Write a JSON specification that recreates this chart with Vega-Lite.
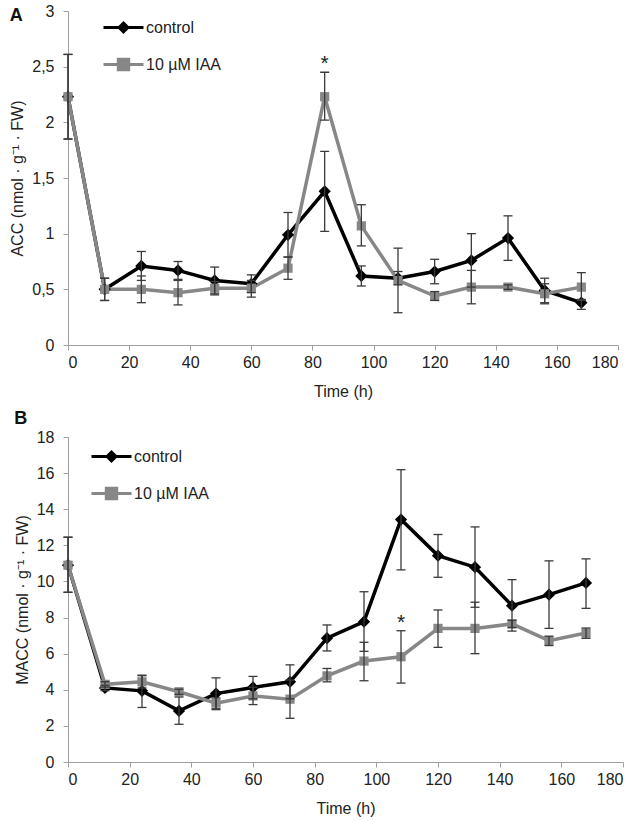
{
  "$schema": "https://vega.github.io/schema/vega-lite/v6.json",
  "padding": {"left": 9, "top": 3, "right": 5, "bottom": 5},
  "background": "white",
  "spacing": 11,
  "resolve": {"scale": {"color": "independent"}, "legend": {"color": "independent"}},
  "config": {
    "font": "Liberation Sans",
    "view": {"stroke": null},
    "axis": {
      "grid": false,
      "labelOverlap": false,
      "domainColor": "#a0a0a0",
      "tickColor": "#a0a0a0",
      "tickSize": 5,
      "labelFont": "Liberation Sans",
      "labelFontSize": 16,
      "labelColor": "#222222",
      "titleFont": "Liberation Sans",
      "titleFontSize": 16,
      "titleFontWeight": "normal",
      "titleColor": "#222222"
    },
    "axisY": {"labelPadding": 9, "titlePadding": 6},
    "axisX": {"labelPadding": 4, "titlePadding": 13},
    "legend": {
      "labelFont": "Liberation Sans",
      "labelFontSize": 16,
      "labelColor": "#222222",
      "symbolSize": 1600,
      "symbolType": "M-1,0H1",
      "labelOffset": 1,
      "rowPadding": 5
    }
  },
  "datasets": {
    "acc": [
      {"t": 0, "series": "control", "v": 2.23, "lo": 1.85, "hi": 2.61, "sig": ""},
      {"t": 12, "series": "control", "v": 0.50, "lo": 0.40, "hi": 0.60, "sig": ""},
      {"t": 24, "series": "control", "v": 0.71, "lo": 0.58, "hi": 0.84, "sig": ""},
      {"t": 36, "series": "control", "v": 0.67, "lo": 0.59, "hi": 0.75, "sig": ""},
      {"t": 48, "series": "control", "v": 0.58, "lo": 0.46, "hi": 0.70, "sig": ""},
      {"t": 60, "series": "control", "v": 0.55, "lo": 0.47, "hi": 0.63, "sig": ""},
      {"t": 72, "series": "control", "v": 0.99, "lo": 0.79, "hi": 1.19, "sig": ""},
      {"t": 84, "series": "control", "v": 1.38, "lo": 1.02, "hi": 1.74, "sig": ""},
      {"t": 96, "series": "control", "v": 0.62, "lo": 0.53, "hi": 0.71, "sig": ""},
      {"t": 108, "series": "control", "v": 0.60, "lo": 0.54, "hi": 0.66, "sig": ""},
      {"t": 120, "series": "control", "v": 0.66, "lo": 0.55, "hi": 0.77, "sig": ""},
      {"t": 132, "series": "control", "v": 0.76, "lo": 0.52, "hi": 1.00, "sig": ""},
      {"t": 144, "series": "control", "v": 0.96, "lo": 0.76, "hi": 1.16, "sig": ""},
      {"t": 156, "series": "control", "v": 0.49, "lo": 0.38, "hi": 0.60, "sig": ""},
      {"t": 168, "series": "control", "v": 0.38, "lo": 0.32, "hi": 0.41, "sig": ""},
      {"t": 0, "series": "10 µM IAA", "v": 2.23, "lo": 1.85, "hi": 2.61, "sig": ""},
      {"t": 12, "series": "10 µM IAA", "v": 0.50, "lo": 0.40, "hi": 0.60, "sig": ""},
      {"t": 24, "series": "10 µM IAA", "v": 0.50, "lo": 0.38, "hi": 0.62, "sig": ""},
      {"t": 36, "series": "10 µM IAA", "v": 0.47, "lo": 0.36, "hi": 0.58, "sig": ""},
      {"t": 48, "series": "10 µM IAA", "v": 0.51, "lo": 0.45, "hi": 0.57, "sig": ""},
      {"t": 60, "series": "10 µM IAA", "v": 0.51, "lo": 0.43, "hi": 0.58, "sig": ""},
      {"t": 72, "series": "10 µM IAA", "v": 0.69, "lo": 0.59, "hi": 0.79, "sig": ""},
      {"t": 84, "series": "10 µM IAA", "v": 2.23, "lo": 2.02, "hi": 2.45, "sig": "*"},
      {"t": 96, "series": "10 µM IAA", "v": 1.07, "lo": 0.89, "hi": 1.26, "sig": ""},
      {"t": 108, "series": "10 µM IAA", "v": 0.58, "lo": 0.29, "hi": 0.87, "sig": ""},
      {"t": 120, "series": "10 µM IAA", "v": 0.44, "lo": 0.40, "hi": 0.48, "sig": ""},
      {"t": 132, "series": "10 µM IAA", "v": 0.52, "lo": 0.37, "hi": 0.67, "sig": ""},
      {"t": 144, "series": "10 µM IAA", "v": 0.52, "lo": 0.50, "hi": 0.54, "sig": ""},
      {"t": 156, "series": "10 µM IAA", "v": 0.46, "lo": 0.37, "hi": 0.55, "sig": ""},
      {"t": 168, "series": "10 µM IAA", "v": 0.52, "lo": 0.40, "hi": 0.65, "sig": ""}
    ],
    "macc": [
      {"t": 0, "series": "control", "v": 10.9, "lo": 9.4, "hi": 12.45, "sig": ""},
      {"t": 12, "series": "control", "v": 4.1, "lo": 3.95, "hi": 4.25, "sig": ""},
      {"t": 24, "series": "control", "v": 3.94, "lo": 3.02, "hi": 4.81, "sig": ""},
      {"t": 36, "series": "control", "v": 2.83, "lo": 2.09, "hi": 3.6, "sig": ""},
      {"t": 48, "series": "control", "v": 3.79, "lo": 2.9, "hi": 4.66, "sig": ""},
      {"t": 60, "series": "control", "v": 4.13, "lo": 3.5, "hi": 4.74, "sig": ""},
      {"t": 72, "series": "control", "v": 4.44, "lo": 3.5, "hi": 5.38, "sig": ""},
      {"t": 84, "series": "control", "v": 6.86, "lo": 6.15, "hi": 7.59, "sig": ""},
      {"t": 96, "series": "control", "v": 7.77, "lo": 6.13, "hi": 9.43, "sig": ""},
      {"t": 108, "series": "control", "v": 13.43, "lo": 10.64, "hi": 16.19, "sig": ""},
      {"t": 120, "series": "control", "v": 11.43, "lo": 10.23, "hi": 12.6, "sig": ""},
      {"t": 132, "series": "control", "v": 10.79, "lo": 8.57, "hi": 13.02, "sig": ""},
      {"t": 144, "series": "control", "v": 8.66, "lo": 7.25, "hi": 10.1, "sig": ""},
      {"t": 156, "series": "control", "v": 9.27, "lo": 7.4, "hi": 11.14, "sig": ""},
      {"t": 168, "series": "control", "v": 9.92, "lo": 8.51, "hi": 11.25, "sig": ""},
      {"t": 0, "series": "10 µM IAA", "v": 10.9, "lo": 9.4, "hi": 12.45, "sig": ""},
      {"t": 12, "series": "10 µM IAA", "v": 4.3, "lo": 4.15, "hi": 4.45, "sig": ""},
      {"t": 24, "series": "10 µM IAA", "v": 4.44, "lo": 4.1, "hi": 4.78, "sig": ""},
      {"t": 36, "series": "10 µM IAA", "v": 3.89, "lo": 3.75, "hi": 4.03, "sig": ""},
      {"t": 48, "series": "10 µM IAA", "v": 3.26, "lo": 2.95, "hi": 3.55, "sig": ""},
      {"t": 60, "series": "10 µM IAA", "v": 3.66, "lo": 3.18, "hi": 4.14, "sig": ""},
      {"t": 72, "series": "10 µM IAA", "v": 3.48, "lo": 2.42, "hi": 4.54, "sig": ""},
      {"t": 84, "series": "10 µM IAA", "v": 4.77, "lo": 4.44, "hi": 5.18, "sig": ""},
      {"t": 96, "series": "10 µM IAA", "v": 5.59, "lo": 4.5, "hi": 6.63, "sig": ""},
      {"t": 108, "series": "10 µM IAA", "v": 5.83, "lo": 4.37, "hi": 7.27, "sig": "*"},
      {"t": 120, "series": "10 µM IAA", "v": 7.4, "lo": 6.35, "hi": 8.42, "sig": ""},
      {"t": 132, "series": "10 µM IAA", "v": 7.4, "lo": 6.0, "hi": 8.85, "sig": ""},
      {"t": 144, "series": "10 µM IAA", "v": 7.65, "lo": 7.45, "hi": 7.85, "sig": ""},
      {"t": 156, "series": "10 µM IAA", "v": 6.72, "lo": 6.45, "hi": 6.97, "sig": ""},
      {"t": 168, "series": "10 µM IAA", "v": 7.14, "lo": 6.85, "hi": 7.42, "sig": ""}
    ]
  },
  "vconcat": [
    {
      "width": 550,
      "height": 334,
      "title": {"text": "A", "anchor": "start", "frame": "bounds", "fontSize": 18, "fontWeight": "bold", "color": "#111111", "baseline": "top", "offset": -22},
      "data": {"name": "acc"},
      "encoding": {
        "x": {"field": "t", "type": "quantitative", "scale": {"domain": [0, 180], "nice": false}, "axis": {"title": "Time (h)", "values": [0, 20, 40, 60, 80, 100, 120, 140, 160, 180], "tickCount": 20, "labelOverlap": false}}
      },
      "layer": [
        {
          "mark": {"type": "line", "strokeWidth": 3.5},
          "encoding": {
            "y": {"field": "v", "type": "quantitative", "scale": {"domain": [0, 3], "nice": false}, "axis": {"title": "ACC (nmol · g⁻¹ · FW)", "values": [0, 0.5, 1, 1.5, 2, 2.5, 3], "tickCount": 20, "labelOverlap": false, "labelExpr": "replace(format(datum.value, '~g'), '.', ',')"}},
            "color": {"field": "series", "type": "nominal", "sort": ["control", "10 µM IAA"], "scale": {"domain": ["control", "10 µM IAA"], "range": ["#000000", "#878787"]},
              "legend": {"title": null, "orient": "none", "legendX": 34, "legendY": -5,
                "encode": {"symbols": {"update": {
                  "shape": {"signal": "datum.value === 'control' ? 'M-1,0H1M0,-0.22L0.22,0L0,0.22L-0.22,0Z' : 'M-1,0H1M-0.26,-0.26H0.26V0.26H-0.26Z'"},
                  "fill": {"signal": "datum.value === 'control' ? '#000000' : '#878787'"},
                  "stroke": {"signal": "datum.value === 'control' ? '#000000' : '#878787'"},
                  "strokeWidth": {"value": 3},
                  "size": {"value": 1600},
                  "opacity": {"value": 1}
                }}}}}
          }
        },
        {
          "transform": [{"filter": "datum.series === 'control'"}],
          "mark": {"type": "point", "filled": true, "opacity": 1, "shape": "diamond", "size": 150, "color": "#000000"},
          "encoding": {"y": {"field": "v", "type": "quantitative"}}
        },
        {
          "transform": [{"filter": "datum.series !== 'control'"}],
          "mark": {"type": "point", "filled": true, "opacity": 1, "shape": "square", "size": 85, "color": "#878787"},
          "encoding": {"y": {"field": "v", "type": "quantitative"}}
        },
        {
          "mark": {"type": "rule", "color": "#3a3a3a", "strokeWidth": 1.3},
          "encoding": {"y": {"field": "lo", "type": "quantitative"}, "y2": {"field": "hi"}}
        },
        {
          "mark": {"type": "tick", "orient": "horizontal", "size": 9, "thickness": 1.3, "color": "#3a3a3a", "opacity": 1},
          "encoding": {"y": {"field": "lo", "type": "quantitative"}}
        },
        {
          "mark": {"type": "tick", "orient": "horizontal", "size": 9, "thickness": 1.3, "color": "#3a3a3a", "opacity": 1},
          "encoding": {"y": {"field": "hi", "type": "quantitative"}}
        },
        {
          "transform": [{"filter": "datum.sig !== ''"}],
          "mark": {"type": "text", "fontSize": 21, "dy": -8, "baseline": "middle", "color": "#222222"},
          "encoding": {"y": {"field": "hi", "type": "quantitative"}, "text": {"field": "sig"}}
        }
      ]
    },
    {
      "width": 555,
      "height": 325,
      "title": {"text": "B", "anchor": "start", "frame": "bounds", "fontSize": 18, "fontWeight": "bold", "color": "#111111", "baseline": "top", "offset": 1},
      "data": {"name": "macc"},
      "encoding": {
        "x": {"field": "t", "type": "quantitative", "scale": {"domain": [0, 180], "nice": false}, "axis": {"title": "Time (h)", "values": [0, 20, 40, 60, 80, 100, 120, 140, 160, 180], "tickCount": 20, "labelOverlap": false}}
      },
      "layer": [
        {
          "mark": {"type": "line", "strokeWidth": 3.5},
          "encoding": {
            "y": {"field": "v", "type": "quantitative", "scale": {"domain": [0, 18], "nice": false}, "axis": {"title": "MACC (nmol · g⁻¹ · FW)", "values": [0, 2, 4, 6, 8, 10, 12, 14, 16, 18], "tickCount": 20, "labelOverlap": false}},
            "color": {"field": "series", "type": "nominal", "sort": ["control", "10 µM IAA"], "scale": {"domain": ["control", "10 µM IAA"], "range": ["#000000", "#878787"]},
              "legend": {"title": null, "orient": "none", "legendX": 22, "legendY": -2,
                "encode": {"symbols": {"update": {
                  "shape": {"signal": "datum.value === 'control' ? 'M-1,0H1M0,-0.22L0.22,0L0,0.22L-0.22,0Z' : 'M-1,0H1M-0.26,-0.26H0.26V0.26H-0.26Z'"},
                  "fill": {"signal": "datum.value === 'control' ? '#000000' : '#878787'"},
                  "stroke": {"signal": "datum.value === 'control' ? '#000000' : '#878787'"},
                  "strokeWidth": {"value": 3},
                  "size": {"value": 1600},
                  "opacity": {"value": 1}
                }}}}}
          }
        },
        {
          "transform": [{"filter": "datum.series === 'control'"}],
          "mark": {"type": "point", "filled": true, "opacity": 1, "shape": "diamond", "size": 150, "color": "#000000"},
          "encoding": {"y": {"field": "v", "type": "quantitative"}}
        },
        {
          "transform": [{"filter": "datum.series !== 'control'"}],
          "mark": {"type": "point", "filled": true, "opacity": 1, "shape": "square", "size": 85, "color": "#878787"},
          "encoding": {"y": {"field": "v", "type": "quantitative"}}
        },
        {
          "mark": {"type": "rule", "color": "#3a3a3a", "strokeWidth": 1.3},
          "encoding": {"y": {"field": "lo", "type": "quantitative"}, "y2": {"field": "hi"}}
        },
        {
          "mark": {"type": "tick", "orient": "horizontal", "size": 9, "thickness": 1.3, "color": "#3a3a3a", "opacity": 1},
          "encoding": {"y": {"field": "lo", "type": "quantitative"}}
        },
        {
          "mark": {"type": "tick", "orient": "horizontal", "size": 9, "thickness": 1.3, "color": "#3a3a3a", "opacity": 1},
          "encoding": {"y": {"field": "hi", "type": "quantitative"}}
        },
        {
          "transform": [{"filter": "datum.sig !== ''"}],
          "mark": {"type": "text", "fontSize": 21, "dy": -8, "baseline": "middle", "color": "#222222"},
          "encoding": {"y": {"field": "hi", "type": "quantitative"}, "text": {"field": "sig"}}
        }
      ]
    }
  ]
}
